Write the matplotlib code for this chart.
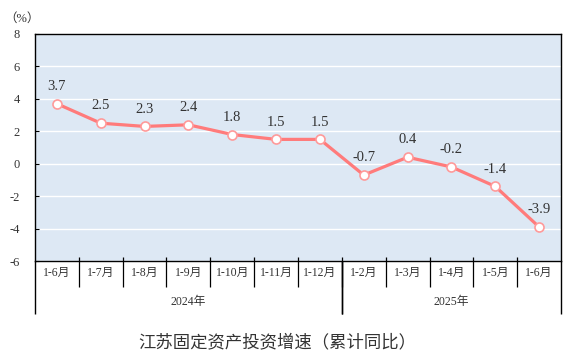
"""Jiangsu fixed-asset investment growth, cumulative YoY."""
import matplotlib
matplotlib.use('Agg')
import matplotlib.pyplot as plt
import matplotlib.transforms as mtransforms

plt.rcParams['font.family'] = ['Liberation Serif', 'Noto Sans CJK SC']

months = ['1-6月', '1-7月', '1-8月', '1-9月', '1-10月', '1-11月', '1-12月',
          '1-2月', '1-3月', '1-4月', '1-5月', '1-6月']
years = ['2024年', '2025年']
year_spans = [(0, 7), (7, 12)]
growth = [3.7, 2.5, 2.3, 2.4, 1.8, 1.5, 1.5, -0.7, 0.4, -0.2, -1.4, -3.9]
yticks = [-6, -4, -2, 0, 2, 4, 6, 8]

LINE = '#ff7b7b'
TXT = '#333333'

fig = plt.figure(figsize=(5.74, 3.59), dpi=100)
ax = fig.add_axes([35 / 574, 1 - 261 / 359, 526 / 574, 227 / 359])
ax.set_facecolor('#dde8f4')

x = list(range(len(growth)))
ax.plot(x, growth, color=LINE, lw=2.3, zorder=3,
        marker='o', ms=6.5, mfc='white', mec='#ff9a9a', mew=1.2)
for xi, v in zip(x, growth):
    ax.annotate(f'{v:g}', (xi, v), xytext=(0, 12.5), textcoords='offset points',
                ha='center', va='center', fontsize=10.5, color=TXT)

ax.set_xlim(-0.5, len(growth) - 0.5)
ax.set_ylim(-6, 8)
ax.set_yticks(yticks)
ax.set_yticklabels([str(t) for t in yticks], fontsize=9, color=TXT)
ax.tick_params(axis='y', direction='in', length=3, pad=11)
ax.yaxis.grid(True, color='white', lw=1)
ax.set_axisbelow(True)
ax.set_xticks([])
for s in ax.spines.values():
    s.set_color('black')
    s.set_linewidth(1)

# category label table under the axis
tr = mtransforms.blended_transform_factory(ax.transData, ax.transAxes)
month_bot = -26 / 227
year_bot = -53 / 227
for i, m in enumerate(months):
    ax.text(i, -12 / 227, m, transform=tr, ha='center', va='center',
            fontsize=8.5, color=TXT)
for b in range(1, len(months)):
    ax.plot([b - 0.5, b - 0.5], [4 / 227, month_bot], transform=tr,
            color='black', lw=0.9, clip_on=False, solid_capstyle='butt')
for (a, b), yr in zip(year_spans, years):
    ax.text((a + b - 1) / 2, -41 / 227, yr, transform=tr, ha='center',
            va='center', fontsize=8.5, color=TXT)
    for edge in (a, b):
        ax.plot([edge - 0.5, edge - 0.5], [0, year_bot], transform=tr,
                color='black', lw=1, clip_on=False, solid_capstyle='butt')

fig.text(22 / 574, 1 - 19 / 359, '（%）', ha='center', va='center',
         fontsize=9, color=TXT)
fig.text(277 / 574, 1 - 343 / 359, '江苏固定资产投资增速（累计同比）',
         ha='center', va='center', fontsize=12.5, color=TXT)

fig.savefig('out.png', dpi=100)
